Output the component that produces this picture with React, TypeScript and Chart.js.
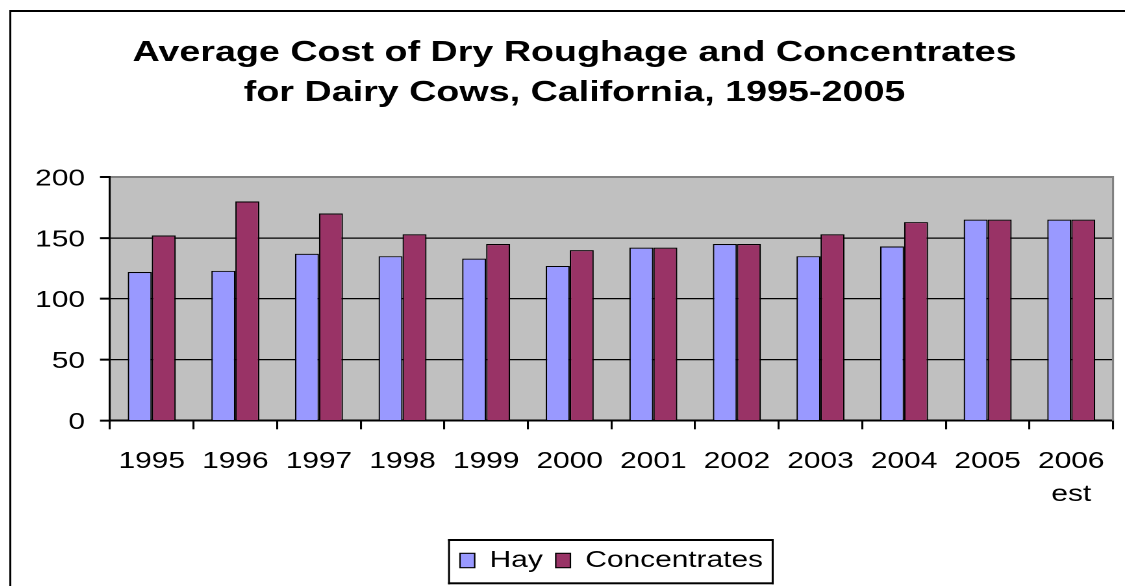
import { useEffect, useRef } from 'react';
import { Chart, registerables } from 'chart.js';

Chart.register(...registerables);

// ---- data ----
const categories: (string | string[])[] = [
  '1995', '1996', '1997', '1998', '1999', '2000',
  '2001', '2002', '2003', '2004', '2005', ['2006', 'est'],
];
const hayValues = [122, 123, 137, 135, 133, 127, 142, 145, 135, 143, 165, 165];
const concentrateValues = [152, 180, 170, 153, 145, 140, 142, 145, 153, 163, 165, 165];
const seriesNames = ['Hay', 'Concentrates'];
const yMin = 0;
const yMax = 200;
const yStep = 50;
const titleLines = [
  'Average Cost of Dry Roughage and Concentrates',
  'for Dairy Cows, California, 1995-2005',
];

// ---- layout (logical canvas space is stretched horizontally to match the reference) ----
const LOGICAL_W = 860;
const H = 578;
const CSS_W = 1117;
const FONT = '"Liberation Sans", Arial, sans-serif';

const framePlugin = {
  id: 'excelFrame',
  beforeDraw(chart: any) {
    const { ctx, chartArea: a } = chart;
    ctx.save();
    ctx.fillStyle = '#C0C0C0';
    ctx.fillRect(a.left, a.top, a.right - a.left, a.bottom - a.top);
    ctx.fillStyle = '#000000';
    ctx.fillRect(1.0, 2, 1.54, H);
    ctx.fillRect(1.0, 2, LOGICAL_W, 2);
    ctx.restore();
  },
  afterDraw(chart: any) {
    const { ctx, chartArea: a, legend } = chart;
    ctx.save();
    ctx.fillStyle = '#808080';
    ctx.fillRect(a.right - 0.77, a.top - 1, 1.54, a.bottom - a.top + 1);
    const hb = legend && legend.legendHitBoxes;
    if (hb && hb.length) {
      const first = hb[0];
      const last = hb[hb.length - 1];
      const l = first.left - 9.2;
      const r = last.left + last.width + 8.2;
      const t = legend.top;
      const b = legend.top + 45.3;
      ctx.fillStyle = '#000000';
      ctx.fillRect(l, t, r - l, 2);
      ctx.fillRect(l, b - 2, r - l, 2);
      ctx.fillRect(l, t, 1.54, b - t);
      ctx.fillRect(r - 1.54, t, 1.54, b - t);
    }
    ctx.restore();
  },
};

export default function App() {
  const ref = useRef<HTMLCanvasElement>(null);

  useEffect(() => {
    const canvas = ref.current;
    if (!canvas) return;
    Chart.defaults.font.family = FONT;
    const chart = new Chart(canvas, {
      type: 'bar',
      data: {
        labels: categories as any,
        datasets: [
          {
            label: seriesNames[0],
            data: hayValues,
            backgroundColor: '#9999FF',
            borderColor: '#000000',
            borderWidth: 1.1,
            barPercentage: 1,
            categoryPercentage: 0.574,
          },
          {
            label: seriesNames[1],
            data: concentrateValues,
            backgroundColor: '#993366',
            borderColor: '#000000',
            borderWidth: 1.1,
            barPercentage: 1,
            categoryPercentage: 0.574,
          },
        ],
      },
      options: {
        responsive: false,
        animation: false,
        devicePixelRatio: 2,
        events: [],
        layout: { padding: { left: 21.6, right: 9.2, top: 0, bottom: 4 } },
        plugins: {
          title: {
            display: true,
            text: titleLines,
            color: '#000000',
            font: { family: FONT, size: 29, weight: 'bold', lineHeight: 40 / 29 },
            padding: { top: 25, bottom: 64 },
          },
          legend: {
            display: true,
            position: 'bottom',
            fullSize: false,
            onClick: () => {},
            labels: {
              boxWidth: 11.3,
              boxHeight: 14.4,
              padding: 10,
              color: '#000000',
              font: { family: FONT, size: 23 },
            },
          },
          tooltip: { enabled: false },
        },
        scales: {
          x: {
            offset: true,
            grid: {
              display: true,
              offset: true,
              drawOnChartArea: false,
              drawTicks: true,
              tickLength: 8.6,
              color: '#000000',
              lineWidth: 1.54,
            },
            border: { display: true, color: '#000000', width: 2 },
            ticks: {
              color: '#000000',
              font: { family: FONT, size: 23, lineHeight: 1.42 },
              padding: 16.2,
              autoSkip: false,
              maxRotation: 0,
              minRotation: 0,
            },
            afterFit: (scale: any) => {
              scale.height = 118.3;
              scale.paddingLeft = 0;
              scale.paddingRight = 0;
            },
          },
          y: {
            min: yMin,
            max: yMax,
            grid: {
              display: true,
              drawTicks: true,
              tickLength: 7.7,
              color: (c: any) => (c.tick && c.tick.value === yMax ? '#808080' : '#000000'),
              lineWidth: (c: any) => (c.tick && c.tick.value === yMax ? 2 : 1.3),
              tickColor: '#000000',
              tickWidth: 2,
            },
            border: { display: true, color: '#000000', width: 1.54 },
            ticks: {
              stepSize: yStep,
              color: '#000000',
              font: { family: FONT, size: 23 },
              padding: 11.5,
              labelOffset: 2,
            },
            afterFit: (scale: any) => {
              scale.width = 56.9;
              scale.paddingTop = 0;
              scale.paddingBottom = 0;
            },
          },
        },
      },
      plugins: [framePlugin],
    } as any);
    return () => chart.destroy();
  }, []);

  return (
    <div style={{ position: 'absolute', left: 8, top: 8, width: CSS_W, height: H }}>
      <canvas
        ref={ref}
        width={LOGICAL_W}
        height={H}
        style={{ width: `${CSS_W}px`, height: `${H}px`, display: 'block' }}
      />
    </div>
  );
}
